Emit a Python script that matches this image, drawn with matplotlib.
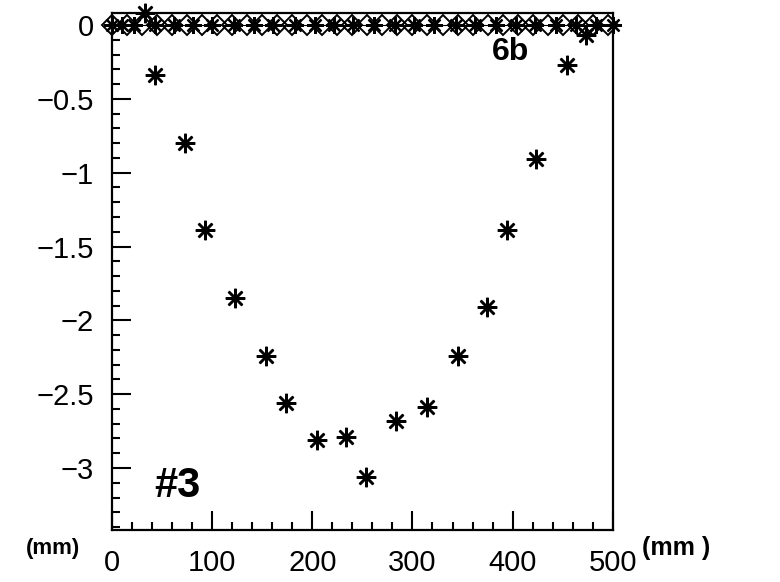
import matplotlib
matplotlib.use("Agg")
import matplotlib.pyplot as plt
from matplotlib.ticker import MultipleLocator

# main series (asterisks), deflection vs position
pos_mm = [33, 43, 73, 93, 123, 154, 174, 205, 234, 254, 284, 315, 345, 374, 394, 423, 454, 473]
defl_mm = [0.08, -0.34, -0.80, -1.39, -1.85, -2.24, -2.56, -2.81, -2.79, -3.06,
           -2.68, -2.59, -2.24, -1.91, -1.39, -0.91, -0.27, -0.07]

# other series lying on zero
zero_star_x = [0, 10, 22, 43, 62, 81, 100, 122, 142, 161, 183, 203, 222, 241, 262,
               283, 302, 322, 343, 362, 383, 403, 422, 443, 463, 483, 500]
zero_diamond_x = [0, 15, 30, 45, 60, 75, 90, 105, 120, 135, 150, 165, 180, 195, 210,
                  225, 240, 255, 270, 285, 300, 315, 330, 345, 360, 375, 390, 405,
                  420, 435, 450, 465, 480, 495]

xticks = [0, 100, 200, 300, 400, 500]
yticks = [0, -0.5, -1, -1.5, -2, -2.5, -3]
ytick_labels = ['0', '\u22120.5', '\u22121', '\u22121.5', '\u22122', '\u22122.5', '\u22123']

plt.rcParams['font.family'] = ['Liberation Sans', 'DejaVu Sans']

fig = plt.figure(figsize=(7.8, 5.82), dpi=100)
ax = fig.add_axes([0.1436, 0.0893, 0.642, 0.8884])

star = (8, 2, 0)
ax.plot(zero_diamond_x, [0] * len(zero_diamond_x), color='black', lw=0.8,
        marker='D', ms=10, mfc='none', mec='black', mew=1.4, clip_on=False, zorder=3)
ax.plot(zero_star_x, [0] * len(zero_star_x), ls='none', marker=star, ms=12,
        mec='black', mew=1.6, clip_on=False, zorder=4)
ax.plot(pos_mm, defl_mm, ls='none', marker=star, ms=14, mec='black', mew=1.8,
        clip_on=False, zorder=4)

ax.set_xlim(0, 500)
ax.set_ylim(-3.42, 0.082)

ax.set_xticks(xticks)
ax.set_xticklabels([str(v) for v in xticks])
ax.set_yticks(yticks)
ax.set_yticklabels(ytick_labels)
ax.xaxis.set_minor_locator(MultipleLocator(20))
ax.yaxis.set_minor_locator(MultipleLocator(0.1))

ax.tick_params(which='both', direction='in', top=False, right=False,
               labelsize=21, width=1.5)
ax.tick_params(axis='y', pad=13)
ax.tick_params(axis='x', pad=14)
ax.tick_params(which='major', length=14)
ax.tick_params(which='minor', length=6)
for s in ax.spines.values():
    s.set_linewidth(1.6)

# handwritten annotations
ax.text(398, -0.18, '6b', fontsize=23, fontweight='bold', ha='center', va='center')
ax.text(65, -3.12, '#3', fontsize=30, fontweight='bold', ha='center', va='center')
fig.text(0.068, 0.058, '(mm)', fontsize=16, fontweight='bold', ha='center', va='center')
fig.text(0.823, 0.058, '(mm )', fontsize=18, fontweight='bold', ha='left', va='center')

fig.savefig('out.png', dpi=100, facecolor='white')
